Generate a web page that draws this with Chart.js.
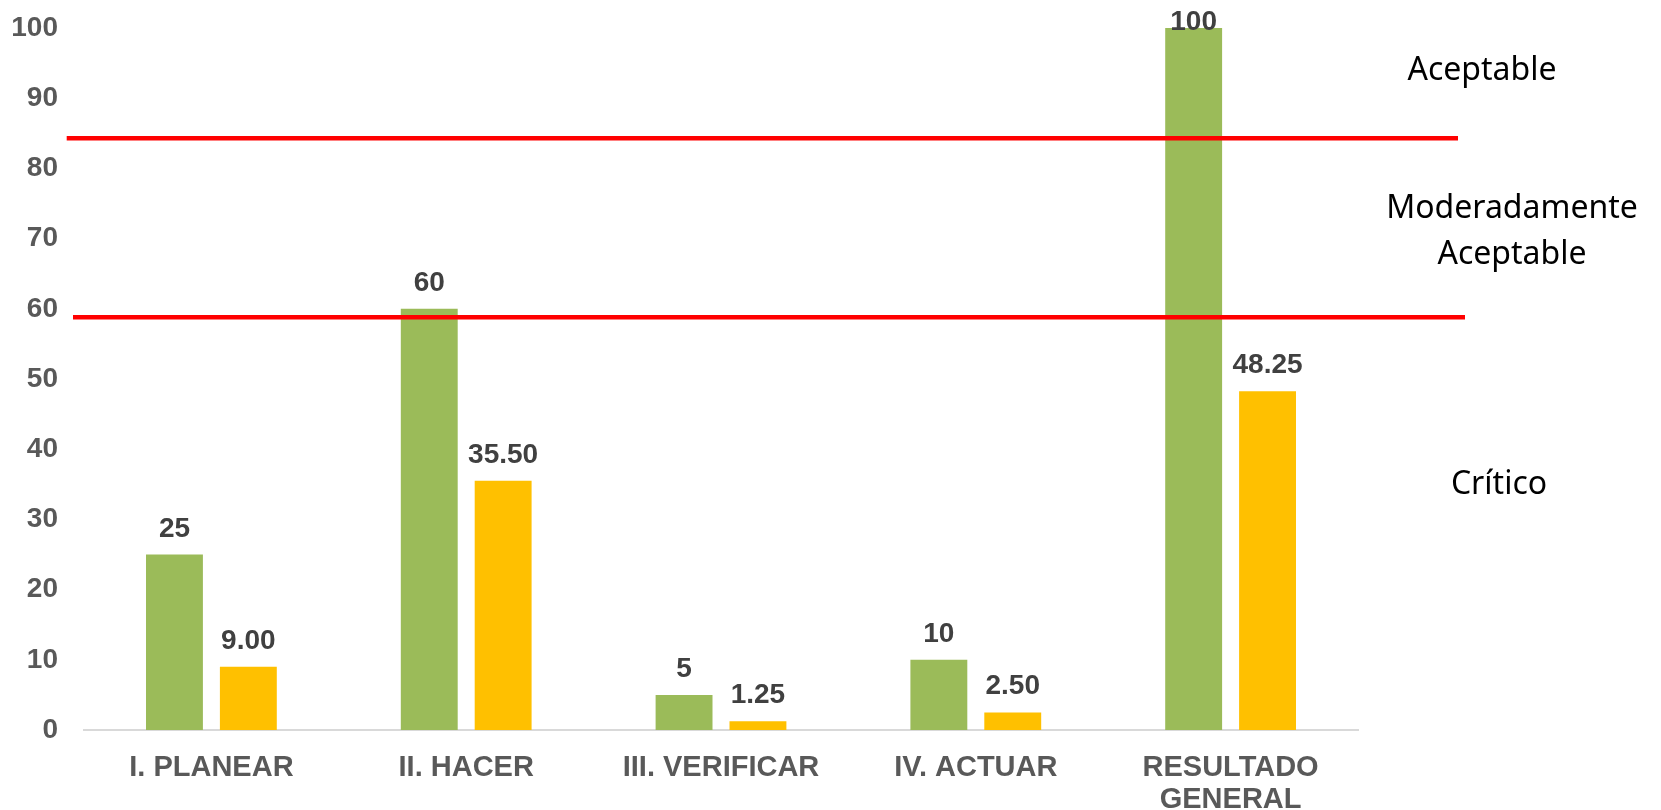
<!DOCTYPE html>
<html>
<head>
<meta charset="utf-8">
<script src="https://cdn.jsdelivr.net/npm/chart.js@4.4.0/dist/chart.umd.min.js"></script>
<style>
  html, body { margin: 0; padding: 0; background: #ffffff; }
  #wrap { position: relative; width: 1661px; height: 810px; }
</style>
</head>
<body>
<div id="wrap"><canvas id="c"></canvas></div>
<script>
// ---- data ----
const categories = [['I. PLANEAR'], ['II. HACER'], ['III. VERIFICAR'], ['IV. ACTUAR'], ['RESULTADO', 'GENERAL']];
const seriesGreen = [25, 60, 5, 10, 100];
const seriesYellow = [9.00, 35.50, 1.25, 2.50, 48.25];
const greenDecimals = 0;
const yellowDecimals = 2;
const yTicks = [0, 10, 20, 30, 40, 50, 60, 70, 80, 90, 100];
const thresholds = [84.3, 58.8];
const zoneNames = [['Aceptable'], ['Moderadamente', 'Aceptable'], ['Crítico']];

const FONT = "'Liberation Sans', Arial, sans-serif";

const thresholdPlugin = {
  id: 'thresholds',
  afterDatasetsDraw(chart) {
    const ctx = chart.ctx;
    const y = chart.scales.y;
    const ext = [[66.7, 1458], [73, 1465]];
    ctx.save();
    ctx.strokeStyle = '#ff0000';
    ctx.lineWidth = 4.5;
    thresholds.forEach((v, i) => {
      const py = y.getPixelForValue(v);
      ctx.beginPath();
      ctx.moveTo(ext[i][0], py);
      ctx.lineTo(ext[i][1], py);
      ctx.stroke();
    });
    ctx.restore();
  }
};

const zonePlugin = {
  id: 'zones',
  afterDraw(chart) {
    const ctx = chart.ctx;
    const pos = [
      { x: 1482, y: [80] },
      { x: 1512, y: [218, 264] },
      { x: 1499, y: [494] }
    ];
    ctx.save();
    ctx.fillStyle = '#000000';
    ctx.font = "32px 'Noto Sans', 'Open Sans', sans-serif";
    ctx.textAlign = 'center';
    ctx.textBaseline = 'alphabetic';
    zoneNames.forEach((lines, i) => {
      lines.forEach((t, j) => ctx.fillText(t, pos[i].x, pos[i].y[j]));
    });
    ctx.restore();
  }
};

const valueLabelPlugin = {
  id: 'valueLabels',
  afterDatasetsDraw(chart) {
    const ctx = chart.ctx;
    ctx.save();
    ctx.fillStyle = '#404040';
    ctx.font = "bold 28px " + FONT;
    ctx.textAlign = 'center';
    ctx.textBaseline = 'alphabetic';
    chart.data.datasets.forEach((ds, di) => {
      const meta = chart.getDatasetMeta(di);
      meta.data.forEach((bar, i) => {
        const txt = ds.data[i].toFixed(ds.decimals);
        const yy = Math.max(bar.y - 18, 30);
        ctx.fillText(txt, bar.x, yy);
      });
    });
    ctx.restore();
  }
};

Chart.defaults.font.family = FONT;

new Chart(document.getElementById('c'), {
  type: 'bar',
  data: {
    labels: categories,
    datasets: [
      { label: 'Puntaje máximo', data: seriesGreen, decimals: greenDecimals, backgroundColor: '#9BBB59', borderWidth: 0,
        categoryPercentage: 0.58, barPercentage: 0.77 },
      { label: 'Puntaje obtenido', data: seriesYellow, decimals: yellowDecimals, backgroundColor: '#FFC000', borderWidth: 0,
        categoryPercentage: 0.58, barPercentage: 0.77 }
    ]
  },
  options: {
    responsive: true,
    maintainAspectRatio: false,
    animation: false,
    layout: { padding: { left: 0, right: 303, top: 28, bottom: 0 } },
    plugins: { legend: { display: false }, tooltip: { enabled: false } },
    scales: {
      x: {
        grid: { display: false },
        border: { display: true, color: '#d9d9d9', width: 2 },
        ticks: { color: '#595959', font: { size: 29, weight: 'bold', lineHeight: 1.1 }, padding: 14, maxRotation: 0, autoSkip: false },
        afterFit(s) { s.height = 80; s.paddingLeft = 0; s.paddingRight = 0; }
      },
      y: {
        min: 0, max: 100,
        afterBuildTicks(s) { s.ticks = yTicks.map(v => ({ value: v })); },
        grid: { display: false },
        border: { display: false },
        ticks: { color: '#595959', font: { size: 28, weight: 'bold' }, padding: 18 },
        afterFit(s) { s.width = 84; s.paddingTop = 0; s.paddingBottom = 0; }
      }
    }
  },
  plugins: [thresholdPlugin, valueLabelPlugin, zonePlugin]
});
</script>
</body>
</html>
